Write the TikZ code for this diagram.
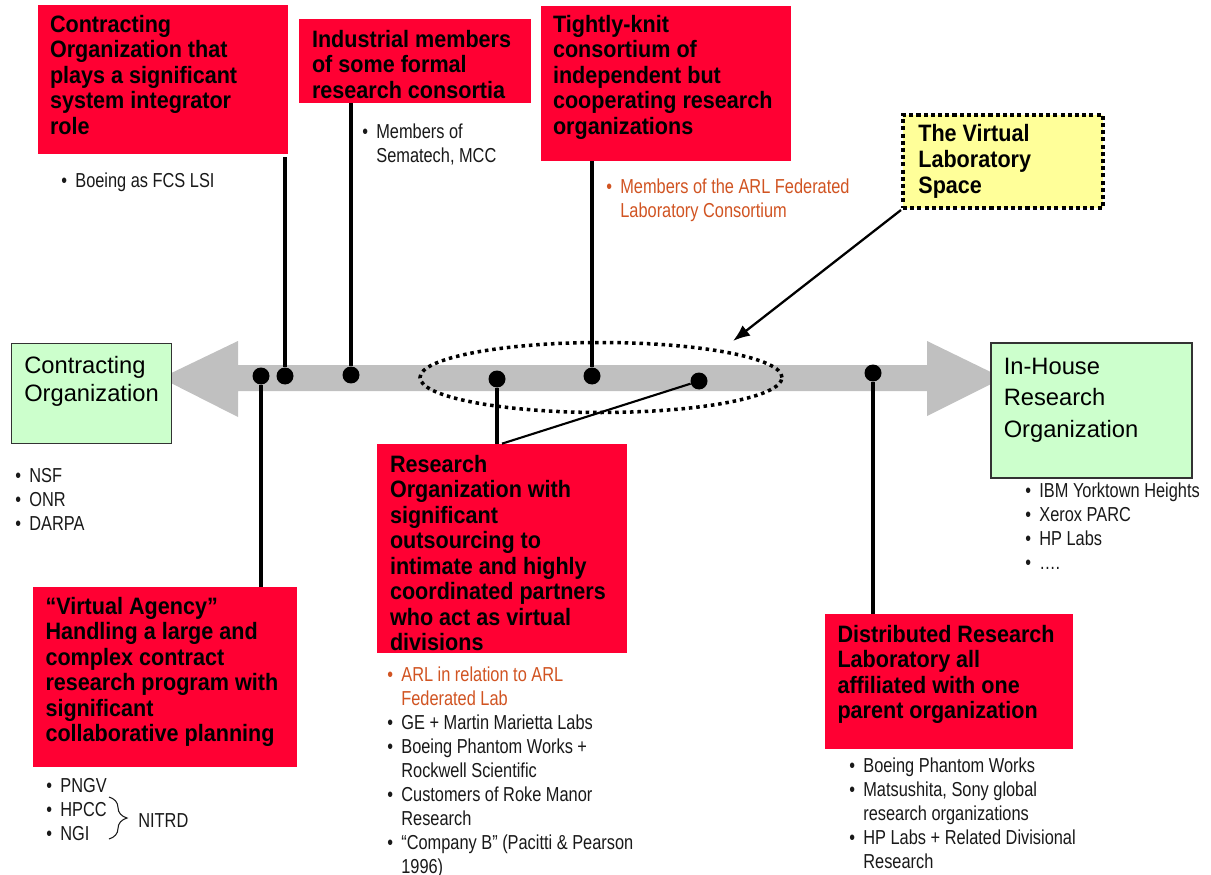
\documentclass[tikz,border=0pt]{standalone}
\usepackage{fontspec}
\setmainfont{Liberation Sans}
\newfontfamily\notefont[FakeStretch = 0.81]{Liberation Sans}
\newfontfamily\boxfont[FakeStretch = 0.91]{Liberation Sans}
\usetikzlibrary{arrows.meta, decorations.pathreplacing}

\definecolor{boxred}{RGB}{255,0,51}
\definecolor{orggreen}{RGB}{204,255,204}
\definecolor{vlsyellow}{RGB}{255,255,153}
\definecolor{spectrumgray}{RGB}{192,192,192}
\definecolor{fedorange}{RGB}{209,84,34}
\definecolor{notegray}{RGB}{25,25,25}

\newcommand{\bul}{\makebox[0.28cm][l]{\textbullet}}
\newcommand{\skipbul}{\hspace*{0.28cm}}

\begin{document}
\begin{tikzpicture}[> = {Latex[length = 0.34cm, width = 0.26cm]}, x = 0.02cm, y = -0.02cm,
	redbox/.style = {fill = boxred, inner sep = 0pt},
	greenbox/.style = {fill = orggreen, draw = black!80, line width = 0.7pt, inner sep = 0pt},
	boxtext/.style = {anchor = north west, inner sep = 0pt, align = left, font = \boxfont\bfseries\fontsize{13.5}{14.5}\selectfont},
	orgtext/.style = {anchor = north west, inner sep = 0pt, align = left, font = \fontsize{13.5}{#1}\selectfont},
	note/.style = {anchor = north west, inner sep = 0pt, align = left, text = notegray, font = \notefont\fontsize{11.5}{13.6}\selectfont},
	dot/.style = {circle, fill = black, inner sep = 0pt, minimum size = 0.34cm},
	link/.style = {line width = 1.9pt}]

	\fill [white] (0, 0) rectangle (1211, 875);
	\useasboundingbox (0, 0) rectangle (1211, 875);

	\fill [spectrumgray] (161, 378) -- (238, 341) -- (238, 365) -- (927, 365) -- (927, 341) -- (1003, 378) -- (927, 416) -- (927, 391) -- (238, 391) -- (238, 417) -- cycle;

	\draw [line width = 2pt, dash pattern = on 2pt off 2.2pt] (601, 377.5) ellipse [x radius = 3.62cm, y radius = 0.7cm];

	\node [greenbox, minimum width = 3.2cm, minimum height = 2cm] (contracting) at (91.5, 393.5) {};
	\node [orgtext = 16.2pt] at ([shift = {(13, 13)}] contracting.north west) {Contracting\\Organization};

	\node [greenbox, minimum width = 4.02cm, minimum height = 2.7cm] (inhouse) at (1091.5, 410.5) {};
	\node [orgtext = 18.1pt] at ([shift = {(13, 15)}] inhouse.north west) {In-House\\Research\\Organization};

	\node [redbox, minimum width = 5cm, minimum height = 2.98cm] (sysint) at (163, 79.5) {};
	\node [boxtext] at ([shift = {(12, 10)}] sysint.north west) {Contracting\\Organization that\\plays a significant\\system integrator\\role};

	\node [redbox, minimum width = 4.64cm, minimum height = 1.68cm] (indust) at (415, 61) {};
	\node [boxtext] at ([shift = {(13, 11)}] indust.north west) {Industrial members\\of some formal\\research consortia};

	\node [redbox, minimum width = 5cm, minimum height = 3.1cm] (consort) at (666, 83.5) {};
	\node [boxtext] at ([shift = {(12, 9)}] consort.north west) {Tightly-knit\\consortium of\\independent but\\cooperating research\\organizations};

	\node [fill = vlsyellow, draw = black, line width = 2.3pt, dash pattern = on 2.3pt off 1.8pt, inner sep = 0pt, minimum width = 4cm, minimum height = 1.86cm] (vls) at (1003, 161.5) {};
	\node [boxtext, font = \boxfont\bfseries\fontsize{13.5}{14.8}\selectfont] at ([shift = {(17, 11)}] vls.north west) {The Virtual\\Laboratory\\Space};

	\node [redbox, minimum width = 5.3cm, minimum height = 3.6cm] (agency) at (165, 677) {};
	\node [boxtext] at ([shift = {(13, 10)}] agency.north west) {“Virtual Agency”\\Handling a large and\\complex contract\\research program with\\significant\\collaborative planning};

	\node [redbox, minimum width = 5cm, minimum height = 4.18cm] (research) at (502, 548.5) {};
	\node [boxtext] at ([shift = {(13, 11)}] research.north west) {Research\\Organization with\\significant\\outsourcing to\\intimate and highly\\coordinated partners\\who act as virtual\\divisions};

	\node [redbox, minimum width = 4.98cm, minimum height = 2.7cm] (distrib) at (949, 681.5) {};
	\node [boxtext] at ([shift = {(13, 11)}] distrib.north west) {Distributed Research\\Laboratory all\\affiliated with one\\parent organization};

	\node [note] (sysintnote) at (61, 173) {\bul Boeing as FCS LSI};
	\node [note] (industnote) at (362, 124) {\bul Members of\\\skipbul Sematech, MCC};
	\node [note, text = fedorange] (consortnote) at (606, 179) {\bul Members of the ARL Federated\\\skipbul Laboratory Consortium};
	\node [note] (contractingnote) at (15, 468) {\bul NSF\\\bul ONR\\\bul DARPA};
	\node [note] (inhousenote) at (1025, 483) {\bul IBM Yorktown Heights\\\bul Xerox PARC\\\bul HP Labs\\\bul ….};
	\node [note] (agencynote) at (46, 778) {\bul PNGV\\\bul HPCC\\\bul NGI};
	\node [note] (researchnote) at (387, 667) {\textcolor{fedorange}{\bul ARL in relation to ARL}\\\textcolor{fedorange}{\skipbul Federated Lab}\\\bul GE + Martin Marietta Labs\\\bul Boeing Phantom Works +\\\skipbul Rockwell Scientific\\\bul Customers of Roke Manor\\\skipbul Research\\\bul “Company B” (Pacitti \& Pearson\\\skipbul 1996)};
	\node [note] (distribnote) at (849, 758) {\bul Boeing Phantom Works\\\bul Matsushita, Sony global\\\skipbul research organizations\\\bul HP Labs + Related Divisional\\\skipbul Research};

	\coordinate (nitrdtop) at (109, 797);
	\coordinate (nitrdbot) at (109, 839);
	\draw [decorate, decoration = {brace, amplitude = 0.36cm}, line width = 0.6pt, notegray] (nitrdtop) -- (nitrdbot);
	\node [note] (nitrd) at (138, 813) {NITRD};

	\node [dot] (dagency) at (261, 376) {};
	\node [dot] (dsysint) at (285, 376) {};
	\node [dot] (dindust) at (351, 375) {};
	\node [dot] (dresearch) at (497, 379) {};
	\node [dot] (dconsort) at (592, 376) {};
	\node [dot] (dvirtual) at (699, 381) {};
	\node [dot] (ddistrib) at (873, 373) {};

	\draw [link] (dagency) -- (dagency |- agency.north);
	\draw [link] (dsysint) -- ([yshift = -0.06cm] dsysint |- sysint.south);
	\draw [link] (dindust) -- (dindust |- indust.south);
	\draw [link] (dresearch) -- (dresearch |- research.north);
	\draw [link] (dconsort) -- (dconsort |- consort.south);
	\draw [link] (ddistrib) -- (ddistrib |- distrib.north);
	\draw [line width = 1.2pt] (dvirtual) -- (research.north);

	\coordinate (vlstip) at (733, 341);
	\draw [->, line width = 1.3pt] (vls.south west) -- (vlstip);

\end{tikzpicture}
\end{document}
